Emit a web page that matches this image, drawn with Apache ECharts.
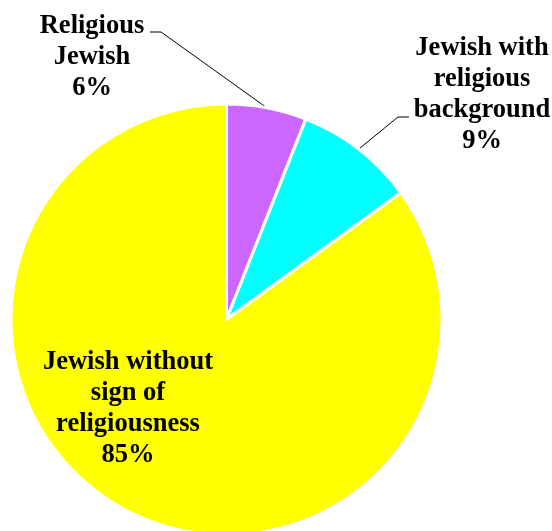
<!DOCTYPE html>
<html>
<head>
<meta charset="utf-8">
<script src="https://cdn.jsdelivr.net/npm/echarts@6/dist/echarts.min.js"></script>
<style>
  html, body { margin: 0; padding: 0; background: #fff; }
  #chart { width: 552px; height: 531px; }
</style>
</head>
<body>
<div id="chart"></div>
<script>
// Religious identification shares
const categories = ['Religious\nJewish', 'Jewish with\nreligious\nbackground', 'Jewish without\nsign of\nreligiousness'];
const shares = [6, 9, 85];
const colors = ['#CC66FF', '#00FFFF', '#FFFF00'];

// Where each label block sits, and the elbow of its leader line (null = no leader)
const labelPlacement = [
  { x: 92, y: 57, elbow: [[161, 32], [150, 32]] },
  { x: 482, y: 95, elbow: [[398, 117], [409, 117]] },
  { x: 128, y: 409, elbow: null }
];

const labelFont = '"Liberation Serif", "Times New Roman", serif';

const chart = echarts.init(document.getElementById('chart'), null, { renderer: 'canvas' });

const data = categories.map((name, i) => ({
  name: name,
  value: shares[i],
  itemStyle: { color: colors[i] },
  labelLine: { show: labelPlacement[i].elbow !== null }
}));

chart.setOption({
  animation: false,
  backgroundColor: '#ffffff',
  textStyle: { fontFamily: labelFont },
  series: [{
    type: 'pie',
    center: [226.5, 319.5],
    radius: 215.5,
    startAngle: 90,
    clockwise: true,
    avoidLabelOverlap: false,
    data: data,
    itemStyle: { borderColor: '#ffffff', borderWidth: 3 },
    label: {
      show: true,
      position: 'outside',
      formatter: p => p.name + '\n' + p.value + '%',
      fontFamily: labelFont,
      fontWeight: 'bold',
      fontSize: 26.5,
      lineHeight: 31,
      color: '#000000',
      align: 'center'
    },
    labelLine: {
      show: true,
      lineStyle: { color: '#000000', width: 1 }
    },
    labelLayout: function (params) {
      const p = labelPlacement[params.dataIndex];
      const out = { x: p.x, y: p.y, align: 'center', verticalAlign: 'middle' };
      if (p.elbow && params.labelLinePoints) {
        out.labelLinePoints = [params.labelLinePoints[0], p.elbow[0], p.elbow[1]];
      }
      return out;
    }
  }]
});
</script>
</body>
</html>
